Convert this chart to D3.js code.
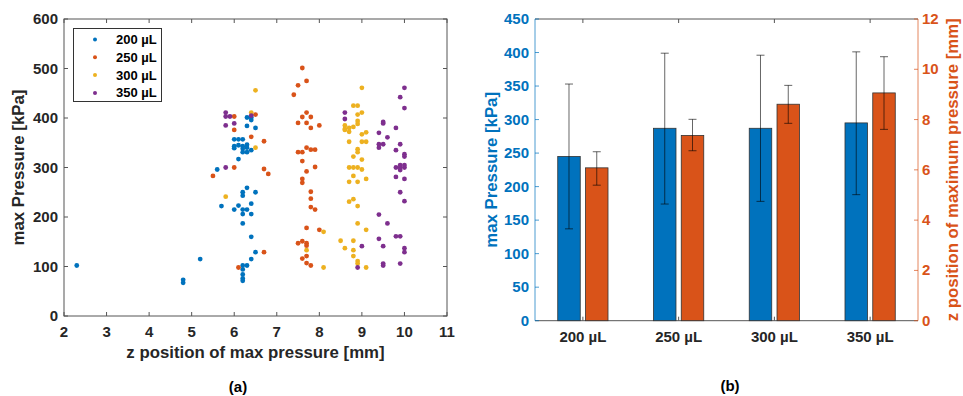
<!DOCTYPE html>
<html>
<head>
<meta charset="utf-8">
<script src="https://d3js.org/d3.v7.min.js"></script>
<style>
body{margin:0;background:#fff;}
svg{display:block;font-family:"Liberation Sans",Arial,sans-serif;font-weight:bold;}
</style>
</head>
<body>
<script>
// (a) scatter: [z position mm, max pressure kPa]
const s200 = [[2.3,102],[4.8,73],[4.8,67],[5.2,115],[5.6,296],[5.7,222],
  [6.0,357],[6.1,357],[6.2,357],[6.0,343],[6.0,339],[6.1,345],[6.2,343],[6.2,338],
  [6.3,346],[6.3,331],[6.2,331],[6.4,335],[6.3,340],[6.1,317],[6.3,401],[6.4,401],
  [6.4,396],[6.3,384],[6.5,380],[6.3,259],[6.2,250],[6.2,243],[6.5,250],[6.1,223],
  [6.4,227],[6.0,215],[6.2,215],[6.3,215],[6.2,206],[6.4,206],[6.2,187],[6.4,160],
  [6.5,129],[6.4,115],[6.2,102],[6.3,102],[6.2,94],[6.2,84],[6.2,76],[6.2,71]];
const s250 = [[5.5,283],[6.0,403],[6.0,376],[6.0,300],[6.1,98],[6.4,362],[6.5,407],
  [6.7,353],[6.7,297],[6.8,287],[6.7,129],[7.4,447],[7.5,466],[7.6,501],[7.7,475],
  [7.7,411],[7.6,402],[7.8,402],[7.5,390],[7.7,390],[7.8,380],[8.0,385],[7.5,331],
  [7.6,331],[7.7,340],[7.8,336],[7.9,336],[7.6,313],[7.9,301],[7.7,292],[7.6,277],
  [7.6,269],[7.8,251],[7.8,237],[7.8,220],[7.9,215],[7.7,178],[8.0,174],[7.5,147],
  [7.6,151],[7.7,147],[7.7,142],[7.6,116],[7.7,121],[7.7,107],[7.8,102]];
const s300 = [[5.8,241],[6.4,411],[6.5,456],[6.5,340],[7.7,133],[8.1,170],[8.1,98],
  [9.0,461],[8.8,425],[8.9,425],[9.0,411],[8.9,407],[8.9,394],[8.6,385],[8.6,376],
  [8.7,372],[8.7,380],[8.8,382],[8.9,388],[8.6,378],[9.0,367],[9.1,371],[8.7,352],
  [9.0,352],[9.1,352],[8.9,337],[8.9,331],[8.8,322],[9.0,316],[8.7,300],[8.8,300],
  [8.9,300],[9.0,296],[9.1,277],[8.8,283],[8.7,271],[8.9,271],[8.8,236],[8.7,231],
  [8.9,222],[8.9,187],[9.1,174],[8.5,152],[8.8,152],[8.6,137],[8.8,133],[8.8,121],
  [8.9,111],[8.9,106],[9.1,98]];
const s350 = [[5.8,411],[5.8,403],[5.9,403],[6.0,389],[5.8,385],[5.8,300],[6.4,405],
  [8.6,411],[8.6,398],[9.0,141],[8.9,98],[10.0,461],[9.9,442],[10.0,420],[9.5,392],
  [9.5,389],[9.8,380],[9.4,370],[9.6,361],[9.4,347],[9.5,347],[9.9,347],[9.4,340],
  [9.8,335],[10.0,327],[10.0,322],[9.8,300],[9.9,300],[10.0,300],[9.9,295],[10.0,305],
  [9.9,305],[9.8,281],[10.0,277],[9.9,250],[10.0,232],[9.4,205],[9.6,187],[9.4,156],
  [9.5,141],[9.8,161],[9.9,161],[10.0,137],[10.0,129],[9.5,106],[9.5,102],[9.9,106]];
const seriesNames = ['200 µL','250 µL','300 µL','350 µL'];
const seriesColors = ['#0072BD','#D95319','#EDB120','#7E2F8E'];
const xTicksA = [2,3,4,5,6,7,8,9,10,11];
const yTicksA = [0,100,200,300,400,500,600];

// (b) bars
const volumes = ['200 µL','250 µL','300 µL','350 µL'];
const pressMean = [245,287,287,295];
const pressLo = [137,174,178,188];
const pressHi = [353,399,396,401];
const zMean = [6.08,7.37,8.61,9.06];
const zLo = [5.39,6.76,7.85,7.61];
const zHi = [6.72,8.01,9.36,10.5];
const yTicksL = [0,50,100,150,200,250,300,350,400,450];
const yTicksR = [0,2,4,6,8,10,12];

const W = 963, H = 396;
const svg = d3.select('body').append('svg').attr('width',W).attr('height',H);
const axisCol = '#555';

// ---------- (a) ----------
const xA = d3.scaleLinear().domain([2,11]).range([64,447]);
const yA = d3.scaleLinear().domain([0,600]).range([316,19]);
const ga = svg.append('g');

ga.append('rect').attr('x',xA(2)).attr('y',yA(600))
  .attr('width',xA(11)-xA(2)).attr('height',yA(0)-yA(600))
  .attr('fill','none').attr('stroke',axisCol).attr('stroke-width',1);

ga.selectAll('.xt').data(xTicksA).enter().append('path')
  .attr('d',d=>`M${xA(d)},${yA(0)}v-4M${xA(d)},${yA(600)}v4`)
  .attr('stroke',axisCol);
ga.selectAll('.yt').data(yTicksA).enter().append('path')
  .attr('d',d=>`M${xA(2)},${yA(d)}h4M${xA(11)},${yA(d)}h-4`)
  .attr('stroke',axisCol);

ga.selectAll('.xl').data(xTicksA).enter().append('text')
  .attr('x',d=>xA(d)).attr('y',337).attr('text-anchor','middle')
  .attr('font-size',15).attr('fill','#262626').text(d=>d);
ga.selectAll('.yl').data(yTicksA).enter().append('text')
  .attr('x',58).attr('y',d=>yA(d)+5).attr('text-anchor','end')
  .attr('font-size',15).attr('fill','#262626').text(d=>d);

ga.append('text').attr('x',(xA(2)+xA(11))/2).attr('y',358).attr('text-anchor','middle')
  .attr('font-size',16.8).attr('fill','#262626').text('z position of max pressure [mm]');
ga.append('text').attr('transform',`translate(24,${(yA(0)+yA(600))/2}) rotate(-90)`)
  .attr('text-anchor','middle').attr('font-size',16.8).attr('fill','#262626')
  .text('max Pressure [kPa]');

[s200,s250,s300,s350].forEach((s,i)=>{
  ga.append('g').selectAll('circle').data(s).enter().append('circle')
    .attr('cx',d=>xA(d[0])).attr('cy',d=>yA(d[1])).attr('r',2.4)
    .attr('fill',seriesColors[i]);
});

// legend
const lg = ga.append('g');
lg.append('rect').attr('x',73.5).attr('y',28.5).attr('width',88).attr('height',73)
  .attr('fill','#fff').attr('stroke','#333');
seriesNames.forEach((n,i)=>{
  const cy = 39.5 + i*17.8;
  lg.append('circle').attr('cx',95).attr('cy',cy).attr('r',2).attr('fill',seriesColors[i]);
  lg.append('text').attr('x',116).attr('y',cy+4.5).attr('font-size',13)
    .attr('fill','#000').text(n);
});

ga.append('text').attr('x',238).attr('y',392).attr('text-anchor','middle')
  .attr('font-size',15).attr('fill','#000').text('(a)');

// ---------- (b) ----------
const xB = d3.scaleLinear().domain([0.5,4.5]).range([535,918]);
const yL = d3.scaleLinear().domain([0,450]).range([320.7,19]);
const yR = d3.scaleLinear().domain([0,12]).range([320.7,19]);
const gb = svg.append('g');
const blue = '#0072BD', orange = '#D95319';
const off = 0.145, bw = 0.235;

// top / bottom frame
gb.append('path').attr('d',`M${xB(0.5)},${yL(0)}H${xB(4.5)}M${xB(0.5)},${yL(450)}H${xB(4.5)}`)
  .attr('stroke',axisCol);
gb.selectAll('.bt').data(volumes).enter().append('path')
  .attr('d',(d,i)=>`M${xB(i+1)},${yL(0)}v-4M${xB(i+1)},${yL(450)}v4`)
  .attr('stroke',axisCol);

gb.selectAll('.bb').data(pressMean).enter().append('rect')
  .attr('x',(d,i)=>xB(i+1-off)-xB(bw/2)+xB(0)).attr('y',d=>yL(d))
  .attr('width',xB(bw)-xB(0)).attr('height',d=>yL(0)-yL(d))
  .attr('fill',blue).attr('stroke','#333').attr('stroke-width',0.8);
gb.selectAll('.bo').data(zMean).enter().append('rect')
  .attr('x',(d,i)=>xB(i+1+off)-xB(bw/2)+xB(0)).attr('y',d=>yR(d))
  .attr('width',xB(bw)-xB(0)).attr('height',d=>yR(0)-yR(d))
  .attr('fill',orange).attr('stroke','#333').attr('stroke-width',0.8);

function errBar(cx, y0, y1){
  gb.append('path')
    .attr('d',`M${cx},${y0}V${y1}M${cx-4},${y0}h8M${cx-4},${y1}h8`)
    .attr('stroke','#000').attr('stroke-opacity',0.6).attr('fill','none');
}
pressMean.forEach((d,i)=>errBar(xB(i+1-off), yL(pressLo[i]), yL(pressHi[i])));
zMean.forEach((d,i)=>errBar(xB(i+1+off), yR(zLo[i]), yR(zHi[i])));

// left axis
gb.append('path').attr('d',`M${xB(0.5)},${yL(0)}V${yL(450)}`).attr('stroke',blue).attr('stroke-opacity',0.7);
gb.selectAll('.lt').data(yTicksL).enter().append('path')
  .attr('d',d=>`M${xB(0.5)},${yL(d)}h4`).attr('stroke',blue).attr('stroke-opacity',0.7);
gb.selectAll('.ll').data(yTicksL).enter().append('text')
  .attr('x',529).attr('y',d=>yL(d)+5).attr('text-anchor','end')
  .attr('font-size',15).attr('fill',blue).text(d=>d);
gb.append('text').attr('transform',`translate(497,${(yL(0)+yL(450))/2}) rotate(-90)`)
  .attr('text-anchor','middle').attr('font-size',16.8).attr('fill',blue)
  .text('max Pressure [kPa]');

// right axis
gb.append('path').attr('d',`M${xB(4.5)},${yR(0)}V${yR(12)}`).attr('stroke',orange).attr('stroke-opacity',0.7);
gb.selectAll('.rt').data(yTicksR).enter().append('path')
  .attr('d',d=>`M${xB(4.5)},${yR(d)}h-4`).attr('stroke',orange).attr('stroke-opacity',0.7);
gb.selectAll('.rl').data(yTicksR).enter().append('text')
  .attr('x',922).attr('y',d=>yR(d)+5).attr('text-anchor','start')
  .attr('font-size',15).attr('fill',orange).text(d=>d);
gb.append('text').attr('transform',`translate(958,${(yR(0)+yR(12))/2}) rotate(-90)`)
  .attr('text-anchor','middle').attr('font-size',16.8).attr('fill',orange)
  .text('z position of maximum pressure [mm]');

gb.selectAll('.cl').data(volumes).enter().append('text')
  .attr('x',(d,i)=>xB(i+1)).attr('y',342).attr('text-anchor','middle')
  .attr('font-size',15).attr('fill','#262626').text(d=>d);

gb.append('text').attr('x',730).attr('y',391).attr('text-anchor','middle')
  .attr('font-size',15).attr('fill','#000').text('(b)');
</script>
</body>
</html>
